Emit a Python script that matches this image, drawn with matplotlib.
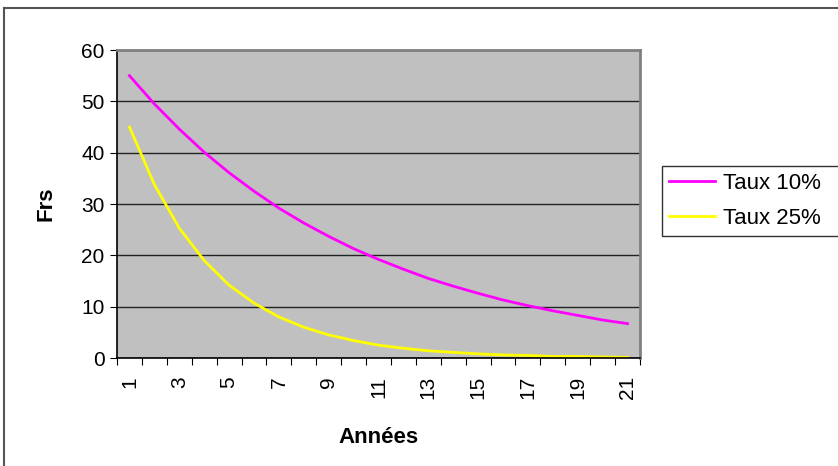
import matplotlib.pyplot as plt
from matplotlib.lines import Line2D

plt.rcParams['font.family'] = ['Liberation Sans', 'DejaVu Sans']

# Data
annees = list(range(1, 22))
taux_10 = [55.0, 49.5, 44.6, 40.1, 36.1, 32.5, 29.2, 26.3, 23.7, 21.3, 19.2,
           17.3, 15.5, 14.0, 12.6, 11.3, 10.2, 9.2, 8.3, 7.4, 6.7]
taux_25 = [45.0, 33.8, 25.3, 19.0, 14.2, 10.7, 8.0, 6.0, 4.5, 3.4, 2.5,
           1.9, 1.4, 1.1, 0.8, 0.6, 0.5, 0.3, 0.3, 0.2, 0.1]
series_labels = ["Taux 10%", "Taux 25%"]
tick_labels = [str(a) if a % 2 == 1 else "" for a in annees]

fig = plt.figure(figsize=(8.38, 4.66), dpi=100)

# outer chart border
fig.add_artist(Line2D([3.5 / 838, 3.5 / 838], [0, 1 - 7.5 / 466],
                      transform=fig.transFigure, color="#555555", lw=1.5))
fig.add_artist(Line2D([3.5 / 838, 1], [1 - 7.5 / 466, 1 - 7.5 / 466],
                      transform=fig.transFigure, color="#555555", lw=1.5))

ax = fig.add_axes([117 / 838, 1 - 358 / 466, (640 - 117) / 838, (358 - 50) / 466])
ax.set_facecolor("#C0C0C0")

ax.plot(annees, taux_10, color="#FF00FF", lw=2, label=series_labels[0])
ax.plot(annees, taux_25, color="#FFFF00", lw=2, label=series_labels[1])

ax.set_xlim(0.5, len(annees) + 0.5)
ax.set_ylim(0, 60)
ax.set_yticks(range(0, 61, 10))
ax.yaxis.grid(True, color="#222222", lw=1)
ax.set_axisbelow(True)

# category axis: tick marks between categories, labels at centres
ax.set_xticks([a - 0.5 for a in annees] + [len(annees) + 0.5])
ax.set_xticklabels([])
ax.set_xticks(annees, minor=True)
ax.set_xticklabels(tick_labels, minor=True, rotation=90, fontsize=15)
ax.tick_params(axis="x", which="minor", length=0, pad=13)
ax.tick_params(axis="x", which="major", length=5, direction="out", color="black")
ax.tick_params(axis="y", length=5, labelsize=15, color="black", pad=4)

for side in ["top", "right"]:
    ax.spines[side].set_color("#808080")
    ax.spines[side].set_linewidth(2)
for side in ["left", "bottom"]:
    ax.spines[side].set_color("black")
    ax.spines[side].set_linewidth(1.2)

ax.set_xlabel("Années", fontsize=16, fontweight="bold", labelpad=20)
ax.set_ylabel("Frs", fontsize=16, fontweight="bold", labelpad=18)

# legend box runs past the right edge, as in the original
leg = fig.legend(loc="upper left", mode="expand",
                 bbox_to_anchor=(662 / 838, 1 - 232 / 466, 190 / 838, 66 / 466),
                 fontsize=16, frameon=True, fancybox=False, edgecolor="black",
                 borderaxespad=0, handlelength=2.1, handletextpad=0.35,
                 labelspacing=0.65, borderpad=0.3)
leg.get_frame().set_linewidth(1)

fig.savefig("out.png", dpi=100)
